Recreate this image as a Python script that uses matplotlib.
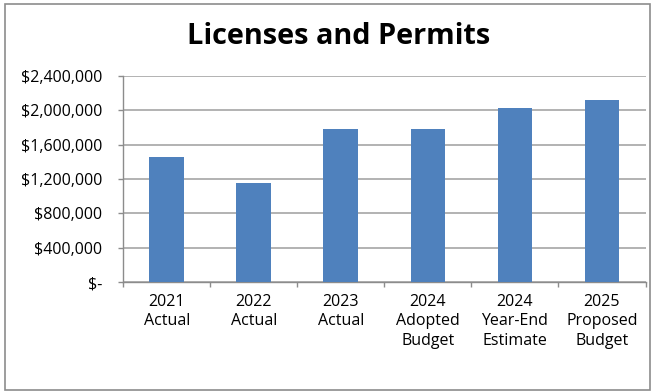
import matplotlib.pyplot as plt
from matplotlib.patches import Rectangle
from matplotlib.ticker import FuncFormatter

categories = ["2021\nActual", "2022\nActual", "2023\nActual",
              "2024\nAdopted\nBudget", "2024\nYear-End\nEstimate", "2025\nProposed\nBudget"]
values = [1460000, 1148000, 1788000, 1788000, 2033000, 2126000]
y_ticks = [0, 400000, 800000, 1200000, 1600000, 2000000, 2400000]

plt.rcParams['font.family'] = ['Open Sans', 'DejaVu Sans']

fig = plt.figure(figsize=(6.61, 3.92), dpi=100)
ax = fig.add_axes([123.3 / 661, 1 - 282 / 392, (645.5 - 123.3) / 661, (282 - 76) / 392])

# chart frame
fig.patches.append(Rectangle((5 / 661, 2 / 392), 645 / 661, 386 / 392, transform=fig.transFigure,
                             fill=False, edgecolor='#8c8c8c', linewidth=1.2))

x = range(len(values))
ax.bar(x, values, width=0.4, color='#4F81BD', zorder=3)

ax.set_xlim(-0.5, len(values) - 0.5)
ax.set_ylim(0, 2400000)
ax.set_yticks(y_ticks)


def money(v, pos):
    if v == 0:
        return '$-'
    return f'${v:,.0f}'


ax.yaxis.set_major_formatter(FuncFormatter(money))
ax.grid(axis='y', color='#a6a6a6', linewidth=1.2, zorder=0)

ax.set_xticks([i - 0.5 for i in range(len(values) + 1)])
ax.set_xticklabels([])
ax.set_xticks(list(x), minor=True)
ax.set_xticklabels(categories, minor=True, fontsize=11.5, linespacing=1.3, va='top')
ax.tick_params(axis='x', which='minor', length=0, pad=8.5)
ax.tick_params(axis='x', which='major', length=3.6, direction='out', color='#8c8c8c', width=1)
ax.tick_params(axis='y', length=3.6, direction='out', color='#8c8c8c', width=1, labelsize=11.5, pad=11.5)

for side in ['top', 'right']:
    ax.spines[side].set_visible(False)
for side in ['left', 'bottom']:
    ax.spines[side].set_color('#8c8c8c')
    ax.spines[side].set_linewidth(1)

fig.text(338.5 / 661, 1 - 36 / 392, 'Licenses and Permits', ha='center', va='center',
         fontsize=20.8, fontweight='bold')

fig.savefig('out.png', dpi=100, facecolor='white')
